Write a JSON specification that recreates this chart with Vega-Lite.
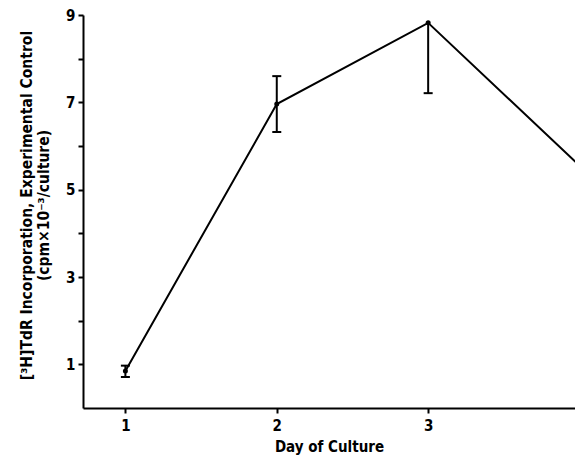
{
  "$schema": "https://vega.github.io/schema/vega-lite/v6.json",
  "width": 492,
  "height": 393,
  "autosize": {"type": "none"},
  "padding": {"left": 83, "top": 15, "right": 0, "bottom": 54},
  "background": "white",
  "data": {
    "values": [
      {"day": 1, "value": 0.85, "lo": 0.71, "hi": 0.97},
      {"day": 2, "value": 6.96, "lo": 6.32, "hi": 7.6},
      {"day": 3, "value": 8.82, "lo": 7.21, "hi": 8.82},
      {"day": 4, "value": 5.55, "lo": null, "hi": null}
    ]
  },
  "config": {
    "view": {"stroke": null},
    "axis": {
      "labelFont": "Liberation Sans Narrow, DejaVu Sans Condensed, sans-serif",
      "titleFont": "Liberation Sans Narrow, DejaVu Sans Condensed, sans-serif",
      "labelFontWeight": "bold",
      "titleFontWeight": "bold",
      "labelColor": "black",
      "titleColor": "black",
      "domainColor": "black",
      "tickColor": "black",
      "domainWidth": 2,
      "tickWidth": 2,
      "grid": false
    }
  },
  "layer": [
    {
      "mark": {"type": "line", "color": "black", "strokeWidth": 2, "clip": true},
      "encoding": {
        "x": {
          "field": "day",
          "type": "quantitative",
          "scale": {"domain": [0.72, 3.97], "nice": false, "zero": false},
          "axis": {
            "values": [1, 2, 3],
            "format": "d",
            "title": "Day of Culture",
            "titleFontSize": 15,
            "labelFontSize": 15,
            "tickSize": 5,
            "labelPadding": 5,
            "titlePadding": 6,
            "labelFlush": false
          }
        },
        "y": {
          "field": "value",
          "type": "quantitative",
          "scale": {"domain": [0, 9], "nice": false, "zero": false},
          "axis": {
            "values": [1, 2, 3, 4, 5, 6, 7, 8, 9],
            "labelExpr": "datum.value % 2 == 1 ? datum.label : ''",
            "title": ["[³H]TdR Incorporation, Experimental Control", "(cpm×10⁻³/culture)"],
            "titleFontSize": 15.5,
            "titleLineHeight": 17,
            "titleY": 190,
            "labelFontSize": 15,
            "tickSize": 5,
            "labelPadding": 3,
            "titlePadding": 14,
            "labelFlush": false
          }
        }
      }
    },
    {
      "transform": [{"filter": "datum.lo != null"}],
      "mark": {"type": "rule", "color": "black", "strokeWidth": 2, "clip": true},
      "encoding": {
        "x": {"field": "day", "type": "quantitative"},
        "y": {"field": "lo", "type": "quantitative"},
        "y2": {"field": "hi"}
      }
    },
    {
      "transform": [{"filter": "datum.lo != null"}],
      "mark": {"type": "tick", "orient": "horizontal", "color": "black", "thickness": 2, "size": 9, "opacity": 1, "clip": true},
      "encoding": {
        "x": {"field": "day", "type": "quantitative"},
        "y": {"field": "lo", "type": "quantitative"}
      }
    },
    {
      "transform": [{"filter": "datum.hi != null && datum.hi > datum.value"}],
      "mark": {"type": "tick", "orient": "horizontal", "color": "black", "thickness": 2, "size": 9, "opacity": 1, "clip": true},
      "encoding": {
        "x": {"field": "day", "type": "quantitative"},
        "y": {"field": "hi", "type": "quantitative"}
      }
    },
    {
      "mark": {"type": "point", "filled": true, "color": "black", "size": 25, "opacity": 1, "clip": true},
      "encoding": {
        "x": {"field": "day", "type": "quantitative"},
        "y": {"field": "value", "type": "quantitative"}
      }
    }
  ]
}
